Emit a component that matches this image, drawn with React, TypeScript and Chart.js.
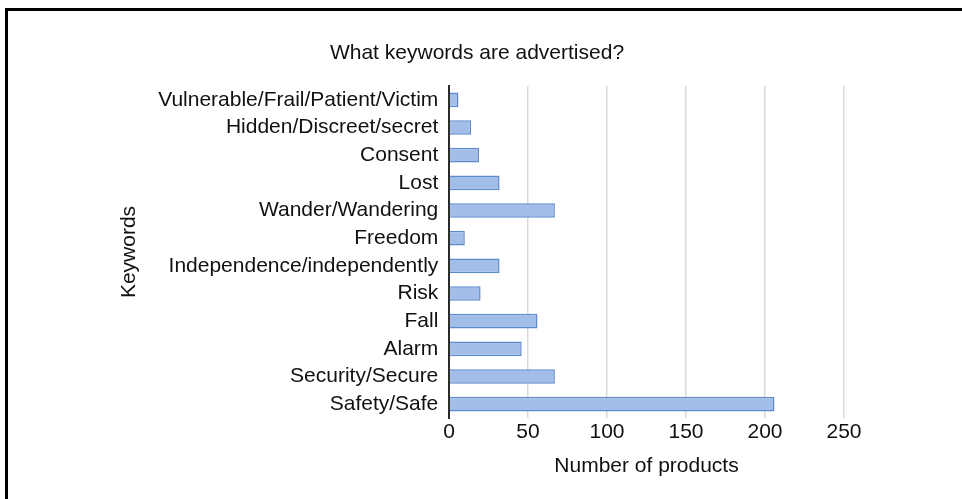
import React, { useEffect, useRef } from "react";
import { Chart, registerables } from "chart.js";

Chart.register(...registerables);

const categories = [
  "Vulnerable/Frail/Patient/Victim",
  "Hidden/Discreet/secret",
  "Consent",
  "Lost",
  "Wander/Wandering",
  "Freedom",
  "Independence/independently",
  "Risk",
  "Fall",
  "Alarm",
  "Security/Secure",
  "Safety/Safe",
];
const productCounts = [6, 14, 19, 32, 67, 10, 32, 20, 56, 46, 67, 206];
const xTickValues = [0, 50, 100, 150, 200, 250];
const chartTitle = "What keywords are advertised?";
const xAxisTitle = "Number of products";
const yAxisTitle = "Keywords";

const FONT = "'Liberation Sans', Arial, Helvetica, sans-serif";

export default function App() {
  const canvasRef = useRef<HTMLCanvasElement | null>(null);

  useEffect(() => {
    const canvas = canvasRef.current;
    if (!canvas) return;
    const chart = new Chart(canvas, {
      type: "bar",
      data: {
        labels: categories,
        datasets: [
          {
            data: productCounts,
            backgroundColor: "#a2bee8",
            borderColor: "#5f8aca",
            borderWidth: 1.5,
            barPercentage: 0.53,
            categoryPercentage: 1,
          },
        ],
      },
      options: {
        indexAxis: "y",
        responsive: false,
        animation: false,
        devicePixelRatio: 1,
        layout: { padding: { top: 30, left: 110, right: 118, bottom: 16.4 } },
        plugins: {
          legend: { display: false },
          tooltip: { enabled: false },
          title: {
            display: true,
            text: chartTitle,
            color: "#111",
            font: { family: FONT, size: 21, weight: "normal" },
            padding: { top: 10.9, bottom: 19.9 },
          },
        },
        scales: {
          x: {
            type: "linear",
            min: 0,
            max: 250,
            afterBuildTicks: (axis: any) => {
              axis.ticks = xTickValues.map((v) => ({ value: v }));
            },
            ticks: {
              color: "#111",
              padding: 1.5,
              font: { family: FONT, size: 21 },
            },
            grid: {
              drawTicks: false,
              color: (ctx: any) => (ctx.index === 0 ? "rgba(0,0,0,0)" : "#d9d9d9"),
              lineWidth: 1.5,
            },
            border: { display: false },
            title: {
              display: true,
              text: xAxisTitle,
              color: "#111",
              font: { family: FONT, size: 21 },
              padding: { top: 7.2, bottom: 4 },
            },
          },
          y: {
            type: "category",
            afterFit: (axis: any) => {
              axis.width = 339;
            },
            ticks: {
              color: "#111",
              padding: 10.7,
              font: { family: FONT, size: 21 },
              autoSkip: false,
            },
            grid: { display: false, drawTicks: false },
            border: { display: true, color: "#2a2a2a", width: 2 },
            title: {
              display: true,
              text: yAxisTitle,
              color: "#111",
              font: { family: FONT, size: 21 },
              padding: { top: 6.9, bottom: 4 },
            },
          },
        },
      },
    });
    return () => chart.destroy();
  }, []);

  return (
    <div
      style={{
        position: "fixed",
        left: 0,
        top: 0,
        width: 962,
        height: 499,
        background: "#fff",
        overflow: "hidden",
      }}
    >
      <canvas ref={canvasRef} width={962} height={499} style={{ display: "block" }} />
      <div
        style={{
          position: "absolute",
          left: 5,
          top: 8,
          width: 1000,
          height: 1000,
          borderTop: "3px solid #000",
          borderLeft: "3px solid #000",
          pointerEvents: "none",
        }}
      />
    </div>
  );
}
